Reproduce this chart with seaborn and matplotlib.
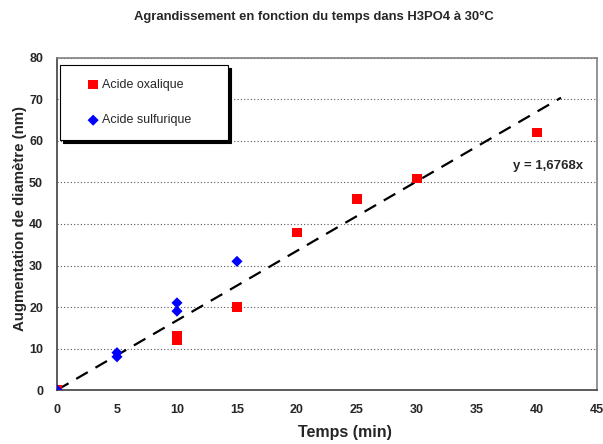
import pandas as pd
import numpy as np
import matplotlib.pyplot as plt
import seaborn as sns

# data
temps_oxalique = [0, 10, 10, 15, 20, 25, 30, 40]
diam_oxalique = [0, 12, 13, 20, 38, 46, 51, 62]
temps_sulfurique = [0, 5, 5, 10, 10, 15]
diam_sulfurique = [0, 8, 9, 19, 21, 31]
pente = 1.6768
fit_range = [0, 42]

sns.set_style("white")
plt.rcParams['font.family'] = ['Liberation Sans', 'DejaVu Sans']

fig = plt.figure(figsize=(6.03, 4.44), dpi=100)
ax = fig.add_axes([0.0945, 0.1216, 0.8955, 0.7478])

# trend line y = a*x
x_fit = np.array(fit_range)
sns.lineplot(x=x_fit, y=pente * x_fit, ax=ax, color="black", lw=1.6,
             linestyle=(0, (6, 4)), zorder=3)

sns.scatterplot(x=temps_oxalique, y=diam_oxalique, ax=ax, marker="s", color="#ff0000",
                s=45, edgecolor="none", label="Acide oxalique", zorder=4)
sns.scatterplot(x=temps_sulfurique, y=diam_sulfurique, ax=ax, marker="D", color="#0000ff",
                s=32, edgecolor="none", label="Acide sulfurique", zorder=5)

ax.set_xlim(0, 45)
ax.set_ylim(0, 80)
ax.set_xticks(range(0, 46, 5))
ax.set_yticks(range(0, 81, 10))
ax.yaxis.grid(True, linestyle=(0, (1, 2)), color="#555555", lw=0.8)
ax.set_axisbelow(True)

for side in ["top", "right"]:
    ax.spines[side].set_color("#808080")
    ax.spines[side].set_linewidth(1.2)
for side in ["left", "bottom"]:
    ax.spines[side].set_color("#404040")
    ax.spines[side].set_linewidth(1.2)
ax.tick_params(direction="out", length=4, width=1, color="#404040",
               labelsize=9, pad=6)
for lab in ax.get_xticklabels() + ax.get_yticklabels():
    lab.set_fontweight("bold")

ax.set_xlabel("Temps (min)", fontsize=11.5, fontweight="bold")
ax.xaxis.set_label_coords(0.533, -0.105)
ax.set_ylabel("Augmentation de diamètre (nm)", fontsize=10.8, fontweight="bold")
ax.yaxis.set_label_coords(-0.056, 0.518)
fig.text(0.521, 0.962, "Agrandissement en fonction du temps dans H3PO4 à 30°C",
         fontsize=9.4, fontweight="bold", ha="center", va="center")

ax.text(38, 54, "y = 1,6768x", fontsize=9.5, fontweight="bold", va="center")

leg = ax.legend(loc="upper left", bbox_to_anchor=(0.0056, 0.753, 0.311, 0.226),
                mode="expand", fontsize=9,
                frameon=True, fancybox=False, edgecolor="black",
                shadow={"ox": 2, "oy": -2, "color": "black", "alpha": 1},
                borderpad=1.1, labelspacing=1.9, handlelength=3.1,
                handletextpad=-0.84, borderaxespad=0)
leg.get_frame().set_linewidth(0.8)

fig.savefig("out.png", dpi=100)
